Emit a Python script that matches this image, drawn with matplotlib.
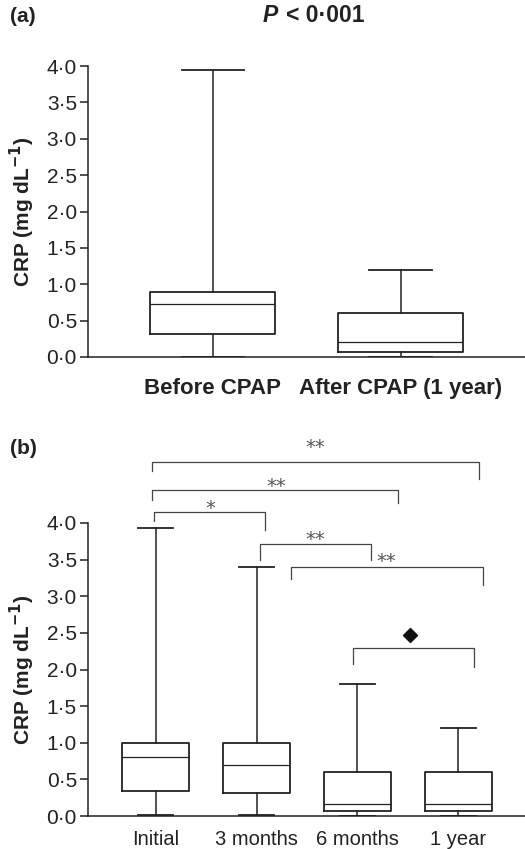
import matplotlib
matplotlib.use("Agg")
import matplotlib.pyplot as plt

plt.rcParams['font.family'] = ['Liberation Sans', 'DejaVu Sans']

# panel (a): CRP before / after CPAP
groups_a = ['Before CPAP', 'After CPAP (1 year)']
min_a = [0.0, 0.0]
q1_a = [0.32, 0.07]
med_a = [0.73, 0.20]
q3_a = [0.89, 0.60]
max_a = [3.94, 1.20]

# panel (b): CRP over follow-up
groups_b = ['Initial', '3 months', '6 months', '1 year']
min_b = [0.01, 0.01, 0.0, 0.0]
q1_b = [0.345, 0.32, 0.07, 0.07]
med_b = [0.80, 0.70, 0.16, 0.16]
q3_b = [1.00, 1.00, 0.60, 0.60]
max_b = [3.93, 3.40, 1.80, 1.20]

yticks = [0.0, 0.5, 1.0, 1.5, 2.0, 2.5, 3.0, 3.5, 4.0]
ytick_labels = ['0·0', '0·5', '1·0', '1·5', '2·0', '2·5', '3·0', '3·5', '4·0']

# significance labels of the comparisons in (b)
sig_labels = ['**', '**', '*', '**', '**', 'diamond']

INK = '#222222'


def stats(labels, lo, q1, med, q3, hi):
    out = []
    for i in range(len(labels)):
        out.append(dict(label=labels[i], whislo=lo[i], q1=q1[i], med=med[i],
                        q3=q3[i], whishi=hi[i], fliers=[]))
    return out


def draw_box(ax, st, width, capw):
    ax.bxp(st, widths=width, capwidths=capw, showfliers=False,
           boxprops=dict(color=INK, linewidth=1.3),
           whiskerprops=dict(color=INK, linewidth=1.1),
           capprops=dict(color=INK, linewidth=1.3),
           medianprops=dict(color=INK, linewidth=0.9))
    ax.set_ylim(0, 4.0)
    ax.set_yticks(yticks)
    ax.set_yticklabels(ytick_labels)
    ax.spines['top'].set_visible(False)
    ax.spines['right'].set_visible(False)
    for s in ('left', 'bottom'):
        ax.spines[s].set_linewidth(1.1)
        ax.spines[s].set_color(INK)
    ax.tick_params(axis='y', length=6, width=1.1, color=INK, labelsize=15,
                   labelcolor=INK, pad=2)
    ax.set_ylabel('CRP (mg dL$^{\\mathbf{-1}}$)', fontsize=15, fontweight='bold',
                  color=INK, labelpad=7)


fig = plt.figure(figsize=(5.25, 8.49), dpi=100)

# (a)
ax1 = fig.add_axes([88 / 525, 1 - 357 / 849, 437 / 525, 291 / 849])
draw_box(ax1, stats(groups_a, min_a, q1_a, med_a, q3_a, max_a), 0.665, 0.335)
ax1.set_xlim(0.335, 2.66)
ax1.tick_params(axis='x', length=0, labelsize=16, pad=15, labelcolor=INK)
for t in ax1.get_xticklabels():
    t.set_fontweight('bold')

fig.text(10 / 525, 1 - 16 / 849, '(a)', fontsize=15, fontweight='bold',
         va='center', ha='left', color=INK)
fig.text(278 / 525, 1 - 16 / 849, 'P', fontsize=16.5, fontweight='bold',
         fontstyle='italic', va='center', ha='right', color=INK)
fig.text(286 / 525, 1 - 16 / 849, '< 0·001', fontsize=16.5, fontweight='bold',
         va='center', ha='left', color=INK)

# (b)
ax2 = fig.add_axes([88 / 525, 1 - 816 / 849, 437 / 525, 293 / 849])
draw_box(ax2, stats(groups_b, min_b, q1_b, med_b, q3_b, max_b), 0.66, 0.35)
ax2.set_xlim(0.33, 4.66)
ax2.tick_params(axis='x', length=0, labelsize=14.5, pad=10, labelcolor=INK)

fig.text(10 / 525, 1 - 449 / 849, '(b)', fontsize=15, fontweight='bold',
         va='center', ha='left', color=INK)

# brackets: x0, x1, y of bar, left leg end, right leg end, label x, label y
brackets = [
    (0.965, 4.20, 4.83, 4.71, 4.60, 2.58, 5.10),
    (0.965, 3.40, 4.45, 4.31, 4.27, 2.20, 4.57),
    (0.985, 2.08, 4.146, 4.03, 3.90, 1.54, 4.27),
    (2.03, 3.13, 3.72, 3.49, 3.50, 2.58, 3.84),
    (2.34, 4.245, 3.40, 3.24, 3.16, 3.29, 3.54),
    (2.96, 4.15, 2.29, 2.08, 2.04, 3.52, 2.47),
]
for (x0, x1, y, yl, yr, tx, ty), lab in zip(brackets, sig_labels):
    ax2.plot([x0, x0, x1, x1], [yl, y, y, yr], color='#444444', lw=0.9,
             clip_on=False)
    if lab == 'diamond':
        ax2.plot([tx], [ty], marker='D', ms=7, color='#111111', clip_on=False)
    else:
        ax2.text(tx, ty - 0.07, lab, fontsize=14, color='#555555',
                 ha='center', va='center', family='DejaVu Sans')

fig.savefig('out.png', dpi=100)
